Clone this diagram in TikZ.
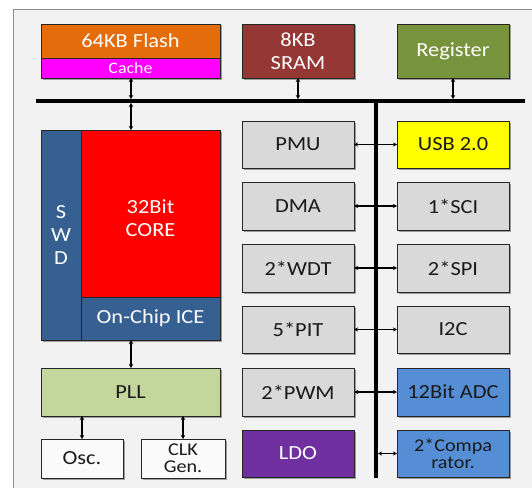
\documentclass[tikz,border=0pt]{standalone}
\usepackage{fontspec}
\setmainfont{Carlito}[FakeStretch=1.12]
\usetikzlibrary{arrows.meta,shadows}
\definecolor{bg}{HTML}{F2F2F2}
\definecolor{frm}{HTML}{8C8C8C}
\definecolor{bdr}{HTML}{262626}
\definecolor{cflash}{HTML}{E46C0A}
\definecolor{ccache}{HTML}{FF00FF}
\definecolor{csram}{HTML}{953735}
\definecolor{creg}{HTML}{77933C}
\definecolor{ccore}{HTML}{FF0000}
\definecolor{cswd}{HTML}{376092}
\definecolor{cpll}{HTML}{C3D69B}
\definecolor{cgray}{HTML}{D9D9D9}
\definecolor{cusb}{HTML}{FFFF00}
\definecolor{cadc}{HTML}{558ED5}
\definecolor{cldo}{HTML}{7030A0}
\definecolor{cwhite}{HTML}{FAFAFA}
\definecolor{ctxt}{HTML}{1A1A1A}
\begin{document}
\begin{tikzpicture}[x=1pt,y=-1pt,
  blk/.style={draw=bdr, line width=0.8pt, inner sep=0pt, outer sep=0pt, anchor=north west,
    align=center, font=\fontsize{20}{23}\selectfont,
    drop shadow={shadow xshift=1.5pt, shadow yshift=-1.5pt, opacity=0.35, fill=black}},
  dk/.style={blk, text=ctxt},
  lt/.style={blk, text=white},
  two/.style={font=\fontsize{18}{17}\selectfont},
  arr/.style={{Stealth[length=4pt,width=4.5pt]}-{Stealth[length=4pt,width=4.5pt]}, line width=1.4pt, black},
  harr/.style={{Stealth[length=4pt,width=4pt]}-{Stealth[length=4pt,width=4pt]}, line width=1.1pt, black},
  bus/.style={line width=4pt, black}]
\useasboundingbox (0,0) rectangle (532,487);
\fill[white] (0,0) rectangle (532,487);
\fill[bg] (13,10) rectangle (545,500);
\draw[frm, line width=1pt] (13,500) -- (13,10) -- (545,10);
% top row
\node[lt, fill=cflash, minimum width=179pt, minimum height=34pt] (flash) at (41,24) {64KB Flash};
\node[lt, fill=ccache, minimum width=179pt, minimum height=20pt, font=\fontsize{16}{18}\selectfont] (cache) at (41,58) {Cache};
\node[lt, fill=csram, minimum width=112pt, minimum height=54pt] (sram) at (242,24) {8KB\\SRAM};
\node[lt, fill=creg, minimum width=112pt, minimum height=54pt] (reg) at (397,24) {Register};
% core block
\node[lt, fill=cswd, minimum width=40pt, minimum height=210pt] (swd) at (41,130) {S\\W\\D};
\node[lt, fill=ccore, minimum width=139pt, minimum height=167pt] (core) at (81,130) {\rule{0pt}{24pt}32Bit\\CORE};
\node[lt, fill=cswd, minimum width=139pt, minimum height=43pt] (ice) at (81,297) {On-Chip ICE};
% clock
\node[dk, fill=cpll, minimum width=179pt, minimum height=48pt] (pll) at (41,368) {PLL};
\node[dk, fill=cwhite, minimum width=82pt, minimum height=39pt] (osc) at (41,439) {Osc.};
\node[dk, two, fill=cwhite, minimum width=84pt, minimum height=39pt] (clk) at (141,439) {CLK\\Gen.};
% middle column
\node[dk, fill=cgray, minimum width=112pt, minimum height=47pt] (pmu) at (242,121) {PMU};
\node[dk, fill=cgray, minimum width=112pt, minimum height=48pt] (dma) at (242,182) {DMA};
\node[dk, fill=cgray, minimum width=112pt, minimum height=48pt] (wdt) at (242,244) {2*WDT};
\node[dk, fill=cgray, minimum width=112pt, minimum height=47pt] (pit) at (242,306) {5*PIT};
\node[dk, fill=cgray, minimum width=112pt, minimum height=48pt] (pwm) at (242,368) {2*PWM};
\node[lt, fill=cldo, minimum width=112pt, minimum height=47pt] (ldo) at (242,430) {LDO};
% right column
\node[dk, fill=cusb, minimum width=112pt, minimum height=47pt] (usb) at (397,121) {USB 2.0};
\node[dk, fill=cgray, minimum width=112pt, minimum height=48pt] (sci) at (397,182) {1*SCI};
\node[dk, fill=cgray, minimum width=112pt, minimum height=48pt] (spi) at (397,244) {2*SPI};
\node[dk, fill=cgray, minimum width=112pt, minimum height=47pt] (i2c) at (397,306) {I2C};
\node[dk, fill=cadc, minimum width=112pt, minimum height=48pt] (adc) at (397,368) {12Bit ADC};
\node[dk, two, fill=cadc, minimum width=112pt, minimum height=47pt] (comp) at (397,430) {2*Compa\\rator.};
% buses
\coordinate (hbL) at (36,101);
\coordinate (hbR) at (525,101);
\coordinate (vbT) at (376,101);
\coordinate (vbB) at (376,478);
\coordinate (cx) at (131,0);
\draw[bus] (hbL) -- (hbR);
\draw[bus] (vbT) -- (vbB);
% vertical arrows
\draw[arr, shorten >=2pt] (cx |- cache.south) -- (cx |- hbL);
\draw[arr, shorten <=2pt] (cx |- hbL) -- (cx |- core.north);
\draw[arr, shorten >=2pt] (sram.south) -- (sram.south |- hbL);
\draw[arr, shorten >=2pt] (reg.south) -- (reg.south |- hbL);
\draw[arr] (cx |- ice.south) -- (cx |- pll.north);
\draw[arr] (osc.north) -- (osc.north |- pll.south);
\draw[arr] (clk.north) -- (clk.north |- pll.south);
% horizontal arrows
\draw[harr] (pmu.east) -- (usb.west);
\draw[harr] (dma.east) -- (sci.west);
\draw[harr] (wdt.east) -- (spi.west);
\draw[harr] (pit.east) -- (i2c.west);
\draw[harr] (pwm.east) -- (adc.west);
\draw[harr, shorten <=2pt] (vbB |- comp.west) -- (comp.west);
\end{tikzpicture}
\end{document}
